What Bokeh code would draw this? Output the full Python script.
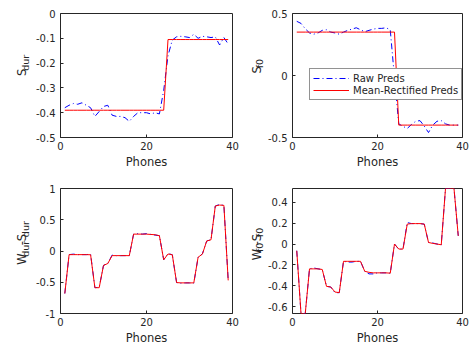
import math
from bokeh.plotting import figure
from bokeh.models import Range1d, FixedTicker, CustomJSTickFormatter
from bokeh.core.properties import value
from bokeh.layouts import gridplot
from bokeh.embed import file_html
from bokeh.resources import INLINE

# ---------------- data ----------------
phones = [1, 2, 3, 4, 5, 6, 7, 8, 9, 10, 11, 12, 13, 14, 15, 16, 17, 18, 19, 20,
          21, 22, 23, 24, 25, 26, 27, 28, 29, 30, 31, 32, 33, 34, 35, 36, 37, 38, 39]
x_ticks = [0, 20, 40]
series_names = ["Raw Preds", "Mean-Rectified Preds"]

s_dur_raw = [-0.38, -0.37, -0.363, -0.366, -0.36, -0.37, -0.38, -0.415, -0.395, -0.375,
             -0.37, -0.41, -0.415, -0.415, -0.42, -0.435, -0.415, -0.40, -0.40, -0.40,
             -0.405, -0.40, -0.405, -0.31, -0.17, -0.107, -0.094, -0.092, -0.094, -0.097,
             -0.084, -0.10, -0.092, -0.094, -0.097, -0.094, -0.127, -0.097, -0.123]
s_dur_rect = [-0.39] * 24 + [-0.105] * 15
s_dur_ticks = [-0.5, -0.4, -0.3, -0.2, -0.1, 0]

s_f0_raw = [0.437, 0.42, 0.377, 0.343, 0.333, 0.343, 0.364, 0.369, 0.35, 0.343,
            0.333, 0.35, 0.364, 0.374, 0.385, 0.369, 0.353, 0.364, 0.374, 0.38,
            0.38, 0.385, 0.369, -0.02, -0.39, -0.41, -0.427, -0.395, -0.369, -0.364,
            -0.408, -0.46, -0.40, -0.369, -0.364, -0.39, -0.40, -0.40, -0.40]
s_f0_rect = [0.35] * 24 + [-0.40] * 15
s_f0_ticks = [-0.5, 0, 0.5]

wd_rect = [-0.68, -0.058, -0.058, -0.058, -0.058, -0.058, -0.06, -0.587, -0.587, -0.23,
           -0.2, -0.074, -0.074, -0.074, -0.074, -0.074, 0.27, 0.27, 0.27, 0.27,
           0.265, 0.26, 0.245, -0.14, -0.048, -0.06, -0.505, -0.51, -0.51, -0.51,
           -0.51, -0.1, -0.05, 0.16, 0.18, 0.72, 0.735, 0.73, -0.47]
wd_raw = [-0.68, -0.058, -0.05, -0.058, -0.058, -0.058, -0.05, -0.587, -0.58, -0.23,
          -0.2, -0.065, -0.074, -0.074, -0.074, -0.074, 0.27, 0.278, 0.27, 0.278,
          0.265, 0.255, 0.245, -0.14, -0.04, -0.06, -0.505, -0.515, -0.51, -0.51,
          -0.515, -0.1, -0.045, 0.16, 0.18, 0.72, 0.745, 0.73, -0.47]
wd_ticks = [-1, -0.5, 0, 0.5, 1]

wf_rect = [-0.064, -0.663, -0.663, -0.237, -0.237, -0.237, -0.243, -0.404, -0.41, -0.458,
           -0.464, -0.165, -0.165, -0.165, -0.165, -0.165, -0.26, -0.27, -0.275, -0.275,
           -0.275, -0.275, -0.278, 0.0, -0.048, -0.048, 0.19, 0.195, 0.195, 0.195,
           0.19, 0.015, 0.006, 0.0, -0.007, 0.53, 0.53, 0.53, 0.078]
wf_raw = [-0.064, -0.663, -0.663, -0.237, -0.228, -0.237, -0.243, -0.404, -0.41, -0.465,
          -0.464, -0.165, -0.172, -0.172, -0.165, -0.165, -0.26, -0.285, -0.285, -0.275,
          -0.275, -0.275, -0.278, 0.0, -0.05, -0.048, 0.205, 0.195, 0.195, 0.195,
          0.19, 0.015, 0.01, 0.0, -0.007, 0.53, 0.53, 0.53, 0.078]
wf_ticks = [-0.6, -0.4, -0.2, 0, 0.2, 0.4]

# y-axis label pieces: (text, is_subscript)
ylab1 = [("S", False), ("dur", True)]
ylab2 = [("S", False), ("f0", True)]
ylab3 = [("W", False), ("dur", True), ("-S", False), ("dur", True)]
ylab4 = [("W", False), ("f0", True), ("-S", False), ("f0", True)]

# ---------------- style ----------------
FONT = "DejaVu Sans"
TXT = "#262626"
BLUE = "#0000ff"
RED = "#ff0000"
DASHDOT = "6 3 1 3"

ADV = {"S": 0.635, "W": 0.989, "d": 0.635, "u": 0.634, "r": 0.411,
       "f": 0.352, "0": 0.636, "-": 0.361}
MAIN_FS = 11.5
SUB_FS = 9.5

fmt_code = "return String(Math.round(tick*10)/10);"

# geometry (px)
ROW1_H, ROW2_H = 172, 175
LAB1_W, P1_W, LAB2_W, P2_W = 30, 210, 24, 205


def make_fig(width, height, bl, br, bt, bb, y_lo, y_hi, yticks):
    p = figure(width=width, height=height,
               min_border_left=bl, min_border_right=br,
               min_border_top=bt, min_border_bottom=bb,
               x_range=Range1d(0, 40), y_range=Range1d(y_lo, y_hi),
               output_backend="svg", toolbar_location=None, tools="")
    p.xgrid.visible = False
    p.ygrid.visible = False
    p.outline_line_color = "#262626"
    p.outline_line_width = 1
    p.background_fill_color = "white"
    p.border_fill_color = "white"
    for ax in (p.xaxis[0], p.yaxis[0]):
        ax.axis_line_color = None
        ax.major_tick_in = 3
        ax.major_tick_out = 0
        ax.major_tick_line_color = "#262626"
        ax.minor_tick_line_color = None
        ax.major_label_text_font = FONT
        ax.major_label_text_font_size = "10px"
        ax.major_label_text_color = TXT
        ax.formatter = CustomJSTickFormatter(code=fmt_code)
    p.xaxis.ticker = FixedTicker(ticks=x_ticks)
    p.yaxis.ticker = FixedTicker(ticks=yticks)
    p.yaxis.major_label_standoff = 5
    p.xaxis.major_label_standoff = 4
    p.xaxis.axis_label = "Phones"
    p.xaxis.axis_label_standoff = 2
    p.xaxis.axis_label_text_font = FONT
    p.xaxis.axis_label_text_font_size = "11.5px"
    p.xaxis.axis_label_text_font_style = "normal"
    p.xaxis.axis_label_text_color = TXT
    return p


def make_label_fig(width, height, pieces, base_x, center_y):
    """A bare figure whose frame is the whole canvas (1 unit = 1 px, y up)."""
    f = figure(width=width, height=height, min_border=0,
               x_range=Range1d(0, width), y_range=Range1d(0, height),
               x_axis_location=None, y_axis_location=None,
               output_backend="svg", toolbar_location=None, tools="")
    f.xgrid.visible = False
    f.ygrid.visible = False
    f.outline_line_color = None
    f.background_fill_color = "white"
    f.border_fill_color = "white"

    def wid(t, fs):
        return sum(ADV.get(c, 0.6) for c in t) * fs
    total = sum(wid(t, SUB_FS if s else MAIN_FS) for t, s in pieces)
    pos = center_y - total / 2
    for t, s in pieces:
        fs = SUB_FS if s else MAIN_FS
        bx = base_x + (3.3 if s else 0)
        f.text(x=[bx], y=[pos], text=[t], angle=math.pi / 2,
               text_align="left", text_baseline="alphabetic",
               text_font=value(FONT), text_font_size=value(f"{fs}px"),
               text_color=TXT)
        pos += wid(t, fs)
    return f


p1 = make_fig(P1_W, ROW1_H, 30, 8, 13, 35, -0.5, 0, s_dur_ticks)
p2 = make_fig(P2_W, ROW1_H, 25, 7, 13, 35, -0.5, 0.5, s_f0_ticks)
y4_lo, y4_hi = min(wf_rect + wf_raw), max(wf_rect + wf_raw)
p3 = make_fig(P1_W, ROW2_H, 30, 8, 16, 32, -1, 1, wd_ticks)
p4 = make_fig(P2_W, ROW2_H, 25, 7, 16, 32, y4_lo, y4_hi, wf_ticks)

p1.line(phones, s_dur_raw, line_color=BLUE, line_width=1, line_dash=DASHDOT)
p1.line(phones, s_dur_rect, line_color=RED, line_width=1)

p2.line(phones, s_f0_raw, line_color=BLUE, line_width=1, line_dash=DASHDOT,
        legend_label=series_names[0])
p2.line(phones, s_f0_rect, line_color=RED, line_width=1, legend_label=series_names[1])

p3.line(phones, wd_raw, line_color=BLUE, line_width=1, line_dash=DASHDOT)
p3.line(phones, wd_rect, line_color=RED, line_width=1)

p4.line(phones, wf_raw, line_color=BLUE, line_width=1, line_dash=DASHDOT)
p4.line(phones, wf_rect, line_color=RED, line_width=1)

lg = p2.legend[0]
lg.location = (17, 37)
lg.label_text_font = FONT
lg.label_text_font_size = "10px"
lg.label_text_color = TXT
lg.label_height = 12
lg.glyph_height = 12
lg.glyph_width = 36
lg.label_standoff = 4
lg.padding = 3
lg.spacing = 0
lg.margin = 0
lg.border_line_color = "#262626"
lg.border_line_width = 1
lg.background_fill_color = "white"
lg.background_fill_alpha = 1.0

# label columns (y measured upward from each row's bottom)
l1 = make_label_fig(LAB1_W, ROW1_H, ylab1, 21.5, ROW1_H - 75)
l2 = make_label_fig(LAB2_W, ROW1_H, ylab2, 16.0, ROW1_H - 75)
l3 = make_label_fig(LAB1_W, ROW2_H, ylab3, 21.5, ROW2_H - (251.5 - ROW1_H))
l4 = make_label_fig(LAB2_W, ROW2_H, ylab4, 16.0, ROW2_H - (251.5 - ROW1_H))

grid = gridplot([[l1, p1, l2, p2], [l3, p3, l4, p4]], toolbar_location=None)

open("out.html", "w").write(file_html(grid, INLINE))
